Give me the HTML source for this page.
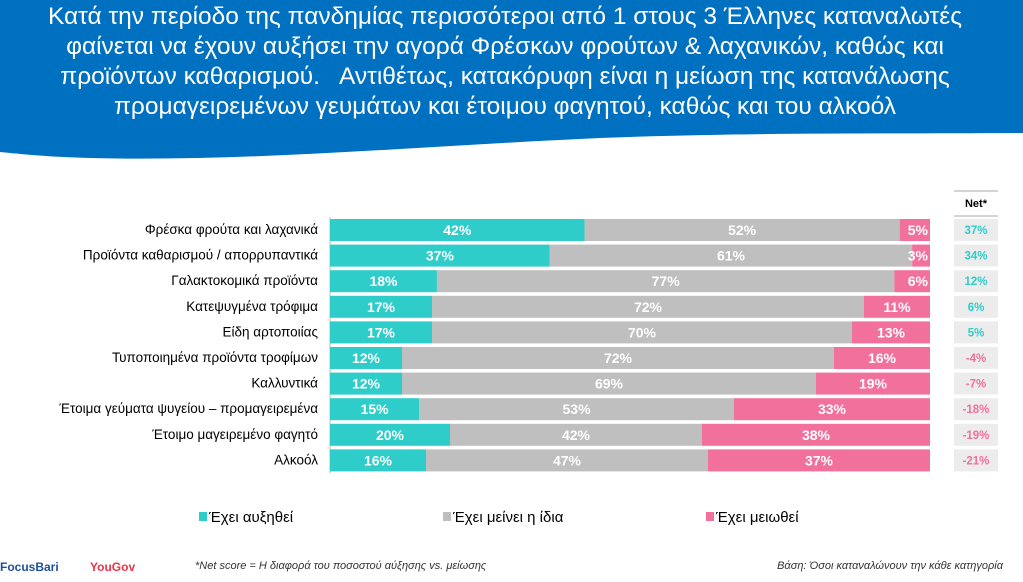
<!DOCTYPE html>
<html><head><meta charset="utf-8"><style>
body{margin:0;width:1023px;height:582px;overflow:hidden;background:#fff;font-family:"Liberation Sans",sans-serif;position:relative}
.t{position:absolute;left:0;width:1010px;text-align:center;color:#fff;font-size:24.5px;line-height:30px;top:2px}
</style></head><body>
<svg width="1023" height="170" style="position:absolute;left:0;top:0">
<path d="M0 0H1023V133C900 134 760 132 600 138C420 146 250 162 90 158C50 157 20 154 0 152Z" fill="#0070c0"/>
</svg>
<div class="t">Κατά την περίοδο της πανδημίας περισσότεροι από 1 στους 3 Έλληνες καταναλωτές<br>φαίνεται να έχουν αυξήσει την αγορά Φρέσκων φρούτων &amp; λαχανικών, καθώς και<br>προϊόντων καθαρισμού.&nbsp;&nbsp; Αντιθέτως, κατακόρυφη είναι η μείωση της κατανάλωσης<br>προμαγειρεμένων γευμάτων και έτοιμου φαγητού, καθώς και του αλκοόλ</div>
<svg id="c" width="1023" height="582" style="position:absolute;left:0;top:0"></svg>
<div style="position:absolute;top:560px;left:0;width:1023px;font-size:11px">
<span style="position:absolute;left:0;color:#1f4e9a;font-weight:bold;font-size:12px">FocusBari</span>
<span style="position:absolute;left:90px;color:#e8334a;font-weight:bold;font-size:12px">YouGov</span>
<i style="position:absolute;left:195px;color:#333">*Net score = Η διαφορά του ποσοστού αύξησης vs. μείωσης</i>
<i style="position:absolute;right:20px;color:#333">Βάση: Όσοι καταναλώνουν την κάθε κατηγορία</i>
</div>
<script>
const categories=["Φρέσκα φρούτα και λαχανικά","Προϊόντα καθαρισμού / απορρυπαντικά","Γαλακτοκομικά προϊόντα","Κατεψυγμένα τρόφιμα","Είδη αρτοποιίας","Τυποποιημένα προϊόντα τροφίμων","Καλλυντικά","Έτοιμα γεύματα ψυγείου – προμαγειρεμένα","Έτοιμο μαγειρεμένο φαγητό","Αλκοόλ"];
const increased=[42,37,18,17,17,12,12,15,20,16];
const same=[52,61,77,72,70,72,69,53,42,47];
const decreased=[5,3,6,11,13,16,19,33,38,37];
const net=[37,34,12,6,5,-4,-7,-18,-19,-21];
const seriesNames=["Έχει αυξηθεί","Έχει μείνει η ίδια","Έχει μειωθεί"];
const colors=["#2ecdc9","#bfbfbf","#f2709c"];
const svg=document.getElementById('c'),NS='http://www.w3.org/2000/svg';
const x0=330,barW=600,y0=219,pitch=25.6,bh=22;
const yr=i=>y0+i*pitch;
function el(t,a,txt){const e=document.createElementNS(NS,t);for(const k in a)e.setAttribute(k,a[k]);if(txt!=null)e.textContent=txt;svg.appendChild(e);return e;}
let e;
e=el('line',{x1:954,x2:998,y1:191,y2:191,stroke:'#aaa'});
e=el('line',{x1:954,x2:998,y1:216,y2:216,stroke:'#aaa'});
e=el('text',{x:976,y:207,'text-anchor':'middle','font-size':11,'font-weight':'bold',fill:'#000'},'Net*');
e=el('line',{x1:x0,x2:x0,y1:yr(0)-2,y2:yr(9)+bh+2,stroke:'#bbb'});
categories.forEach((c,i)=>{
 const y=yr(i);
 e=el('text',{x:318,y:y+15,'text-anchor':'end','font-size':13.5,fill:'#000'},c);
 const vals=[increased[i],same[i],decreased[i]];
 const tot=vals[0]+vals[1]+vals[2];
 const xs=v=>x0+v/tot*barW;
 let acc=0;
 vals.forEach((v,s)=>{
  e=el('rect',{x:xs(acc),y:y,width:xs(acc+v)-xs(acc),height:bh,fill:colors[s]});
  const small=s==2&&v<7;
  e=el('text',{x:small?xs(acc+v)-2:xs(acc+v/2),y:y+16,'text-anchor':small?'end':'middle','font-size':14,'font-weight':'bold',fill:'#fff'},v+'%');
  acc+=v;
 });
 e=el('rect',{x:954,y:y,width:44,height:bh,fill:'#ececec'});
 e=el('text',{x:976,y:y+15,'text-anchor':'middle','font-size':11.5,'font-weight':'bold',fill:net[i]>=0?'#2ecdc9':'#f2709c'},net[i]+'%');
});
const lx=[199,443,706];
seriesNames.forEach((n,s)=>{
 e=el('rect',{x:lx[s],y:512,width:8,height:9,fill:colors[s]});
 e=el('text',{x:lx[s]+10,y:522,'font-size':15,fill:'#000'},n);
});
</script>
</body></html>
